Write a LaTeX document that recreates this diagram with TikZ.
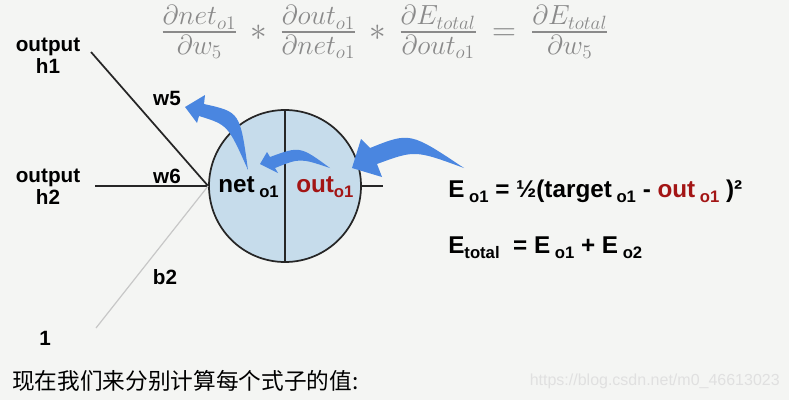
\documentclass[tikz,border=0pt]{standalone}
\usepackage{amsmath}
\usepackage[no-math]{fontspec}
\usepackage{xcolor}
\usepackage{tikz}
\newfontfamily\helv{Liberation Sans}
\newfontfamily\cjk{Noto Sans CJK SC}
\usetikzlibrary{positioning,calc,arrows.meta}

\definecolor{bgcol}{HTML}{F4F5F3}
\definecolor{cellblue}{HTML}{C6DCEB}
\definecolor{arrowblue}{HTML}{4A86E0}
\definecolor{outred}{HTML}{A31515}
\definecolor{formgray}{HTML}{8A8A8A}

\newcommand\sub[1]{\raisebox{-0.45ex}{\fontsize{12.5}{13}\selectfont #1}}
\newcommand\pfrac[2]{\genfrac{}{}{1.5pt}{1}{#1}{#2}}

\tikzset{
    lbl/.style={font=\helv\bfseries\fontsize{15.5}{16.5}\selectfont, align=center, inner sep=0pt},
    wire/.style={line width=1.3pt, draw=black!85},
    eqtext/.style={font=\helv\bfseries\fontsize{18.2}{20}\selectfont, inner sep=0pt, anchor=base west},
}

\begin{document}
\begin{tikzpicture}[x=0.75pt, y=-0.75pt]
    \fill [bgcol] (0,0) rectangle (789,400);
    \useasboundingbox (0,0) rectangle (789,400);

    % formula on top
    \node [text=formgray, font=\fontsize{27.5}{32}\selectfont] (chain) at (385,32)
        {$\pfrac{\partial net_{o1}}{\partial w_5} \,*\, \pfrac{\partial out_{o1}}{\partial net_{o1}} \,*\, \pfrac{\partial E_{total}}{\partial out_{o1}} \,=\, \pfrac{\partial E_{total}}{\partial w_5}$};

    % inputs
    \node [lbl] (h1) at (48,56) {output\\h1};
    \node [lbl] (h2) at (48,187) {output\\h2};
    \node [lbl] (one) at (45,338) {1};
    \coordinate (h1end) at (91,52);
    \coordinate (h2end) at (95,186);
    \coordinate (oneend) at (96,328);
    \coordinate (outend) at (383,186);

    \node [circle, draw=black!85, line width=1.3pt, fill=cellblue, minimum size=114pt, inner sep=0pt] (neuron) at (285,186) {};
    \draw [wire] (neuron.north) -- (neuron.south);
    \draw [wire] (h1end) -- (neuron.west);
    \draw [wire] (h2end) -- (neuron.west);
    \draw [line width=0.9pt, draw=black!22] (oneend) -- (neuron.west);
    \draw [wire] (neuron.east) -- (outend);

    \node [lbl] (w5) at (167,98) {w5};
    \node [lbl] (w6) at (167,176) {w6};
    \node [lbl] (b2) at (165,277) {b2};

    \node [eqtext] (net) at (218,192) {net\sub{ o1}};
    \node [eqtext, text=outred] (out) at (296,192) {out\sub{o1}};

    % blue arrows
    \fill [arrowblue] (464,168) .. controls (415,150) .. (377,164) -- (382,177) -- (352,168) -- (361,139) -- (370,148) .. controls (410,132) .. (464,168) -- cycle;
    \fill [arrowblue] (330,168) .. controls (300,158) .. (275,168) -- (278,173) -- (260,164) -- (267,152) -- (270,157) .. controls (300,146) .. (330,168) -- cycle;
    \fill [arrowblue] (248,170) .. controls (228,125) .. (199,116) -- (197,123) -- (185,107) -- (205,95) -- (204,104) .. controls (240,112) .. (248,170) -- cycle;

    % error terms
    \node [eqtext] (eo1) at (448,197) {E\sub{ o1} = ½(target\sub{ o1} - \textcolor{outred}{out\sub{ o1}} )²};
    \node [eqtext] (etot) at (448,253) {E\sub{total} ~= E\sub{ o1} + E\sub{ o2}};

    \node [anchor=west, inner sep=0pt, font=\cjk\fontsize{17}{20}\selectfont] (note) at (12,381) {现在我们来分别计算每个式子的值:};
    \node [anchor=east, inner sep=0pt, text=black!12, font=\helv\fontsize{12}{14}\selectfont] (mark) at (780,381) {https://blog.csdn.net/m0\_46613023};
\end{tikzpicture}
\end{document}
